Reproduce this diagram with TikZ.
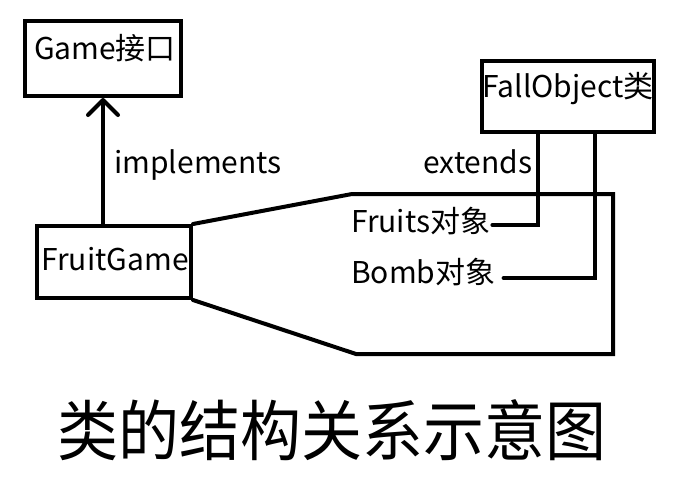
\documentclass[tikz,border=0pt]{standalone}
\usepackage{fontspec}
\setmainfont{Noto Sans CJK SC}
\usetikzlibrary{arrows.meta}

\begin{document}
\begin{tikzpicture}[x=1pt,y=-1pt,
  cls/.style={draw,line width=4pt,inner sep=0pt},
  lbl/.style={inner sep=0pt,font=\fontsize{30}{34}\selectfont},
  conn/.style={line width=4pt,line cap=round,line join=miter}]
\useasboundingbox (0,0) rectangle (697,485);
\node[cls,minimum width=156pt,minimum height=75pt,
  label={[lbl,name=gametxt,xshift=2pt,yshift=10pt]center:Game接口}] (game) at (103,58.5) {};
\node[cls,minimum width=172pt,minimum height=71pt,
  label={[lbl,name=falltxt,yshift=8pt]center:FallObject类}] (fall) at (568,96.5) {};
\node[cls,minimum width=154pt,minimum height=72pt,
  label={[lbl,name=fgtxt,xshift=1pt,yshift=2.5pt]center:FruitGame}] (fruitgame) at (114,262) {};
\node[lbl] (impl) at (198,165) {implements};
\node[lbl] (ext) at (478,162) {extends};
\node[lbl,anchor=west] (fruits) at (351,221.5) {Fruits对象};
\node[lbl,anchor=west] (bomb) at (351,272.5) {Bomb对象};
\node[inner sep=0pt,font=\fontsize{61}{66}\selectfont,yscale=1.08,transform shape] (title) at (332,430) {类的结构关系示意图};
\coordinate (tl) at (352,194);
\coordinate (tr) at (613,194);
\coordinate (br) at (613,354);
\coordinate (bl) at (356,354);
\draw[conn,-{Straight Barb[length=15pt,width=30pt,round]}] (game.south |- fruitgame.north) -- (game.south);
\draw[conn] (fruitgame.north east) -- (tl) -- (tr) -- (br) -- (bl) -- (fruitgame.south east);
\draw[conn] ([xshift=-30pt]fall.south) |- ([xshift=2pt,yshift=-3.5pt]fruits.east);
\draw[conn] ([xshift=27pt]fall.south) |- ([xshift=8pt,yshift=-5.5pt]bomb.east);
\end{tikzpicture}
\end{document}
